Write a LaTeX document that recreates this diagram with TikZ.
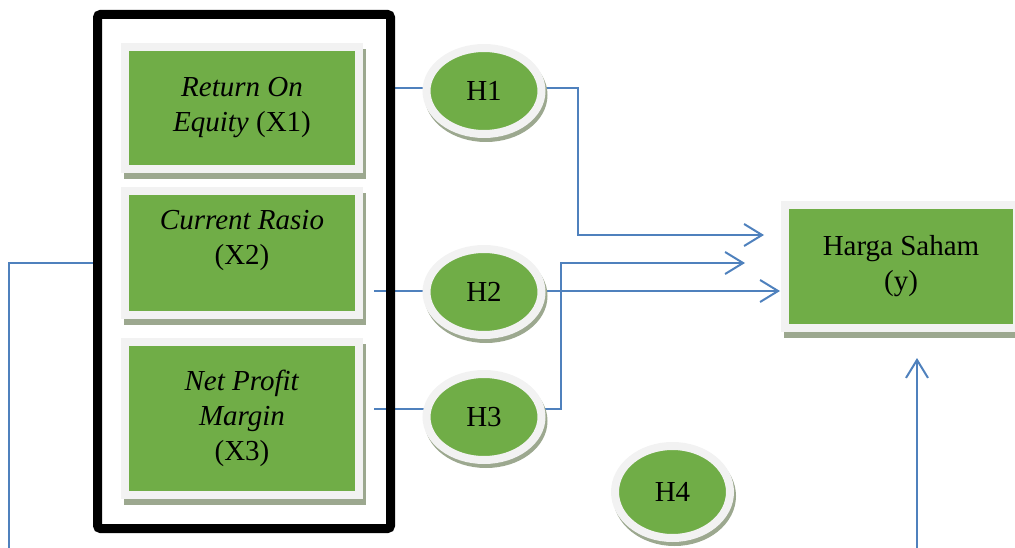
\documentclass[tikz,border=0pt]{standalone}
\usepackage{fontspec}
\setmainfont{Liberation Serif}
\usetikzlibrary{shapes.geometric,shadows,arrows.meta}
\definecolor{boxgreen}{HTML}{70AD47}
\definecolor{ringgray}{HTML}{F2F2F2}
\definecolor{shadegray}{HTML}{9CA88F}
\definecolor{linkblue}{HTML}{4F81BD}
\pgfdeclarelayer{background}
\pgfsetlayers{background,main}
\tikzset{
  txt/.style={font=\fontsize{29pt}{35pt}\selectfont, align=center},
  gbox/.style={rectangle, fill=boxgreen, draw=ringgray, line width=8pt,
    inner sep=0pt, txt,
    drop shadow={shadow xshift=3pt, shadow yshift=-6pt, fill=shadegray,
      draw=shadegray, line width=8pt, opacity=1}},
  gell/.style={ellipse, fill=boxgreen, draw=ringgray, line width=8pt,
    inner sep=0pt, minimum width=115pt, minimum height=86pt, txt,
    drop shadow={shadow xshift=2pt, shadow yshift=-4pt, fill=shadegray,
      draw=shadegray, line width=8pt, opacity=1}},
  link/.style={draw=linkblue, line width=2pt},
  arr/.style={link, -{Straight Barb[length=18pt,width=22pt]}},
}
\begin{document}
\begin{tikzpicture}[x=1pt,y=-1pt]
\useasboundingbox (0,0) rectangle (1015,548);

% group frame around the three independent variables
\node[draw=black, line width=9pt, rounded corners=3pt, minimum width=293pt,
      minimum height=514pt, inner sep=0pt] (frame) at (244,271.5) {};

% independent variables
\node[gbox, minimum width=234pt, minimum height=122pt] (x1) at (242,108)
  {\textit{Return On}\\\textit{Equity} (X1)};
\node[gbox, minimum width=234pt, minimum height=124pt] (x2) at (242,253) {};
\node[txt] (x2t) at (242,240) {\textit{Current Rasio}\\(X2)};
\node[gbox, minimum width=234pt, minimum height=153pt] (x3) at (242,418.5)
  {\textit{Net Profit}\\\textit{Margin}\\(X3)};

% dependent variable
\node[gbox, minimum width=232pt, minimum height=123pt] (y) at (901,266.5)
  {Harga Saham\\(y)};

% hypotheses
\node[gell] (h1) at (484,91) {H1};
\node[gell] (h2) at (484,292) {H2};
\node[gell] (h3) at (484,417) {H3};
\node[gell, minimum height=92pt] (h4) at (672.5,492) {H4};

% connector end points
\coordinate (s1) at (395,88);
\coordinate (s2) at (374,291);
\coordinate (s3) at (374,409);
\coordinate (j1) at (578,0);
\coordinate (j3) at (561,0);
\coordinate (a1) at (764,235);
\coordinate (a2) at (780,291);
\coordinate (a3) at (745,263);
\coordinate (l4) at (9,263);
\coordinate (l4b) at (9,550);
\coordinate (u1) at (917,550);
\coordinate (u2) at (917,358);

\begin{pgfonlayer}{background}
  \draw[link] (s1) -- (h1 |- s1);
  \draw[arr] (h1 |- s1) -| (j1 |- a1) -- (a1);
  \draw[link] (s2) -- (h2 |- s2);
  \draw[arr] (h2 |- s2) -- (a2);
  \draw[link] (s3) -- (h3 |- s3);
  \draw[arr] (h3 |- s3) -| (j3 |- a3) -- (a3);
  \draw[link] (frame.west |- l4) -- (l4) -- (l4b);
  \draw[arr] (u1) -- (u2);
\end{pgfonlayer}
\end{tikzpicture}
\end{document}
